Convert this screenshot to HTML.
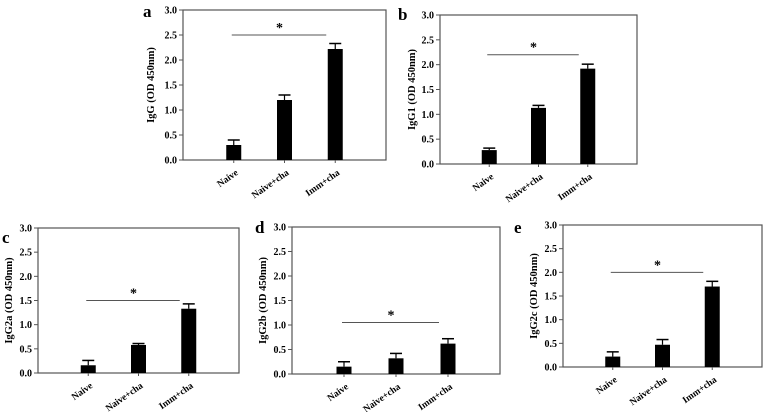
<!DOCTYPE html>
<html><head><meta charset="utf-8"><style>
body{margin:0;background:#fff;width:778px;height:412px;overflow:hidden}
svg{display:block}
text{font-family:"Liberation Serif",serif;font-weight:bold;fill:#000}
</style></head><body>
<svg id="c" width="778" height="412"></svg>
<script>
const categories=["Naive","Naive+cha","Imm+cha"];
const ticks=[0,0.5,1.0,1.5,2.0,2.5,3.0];
const valsA=[0.30,1.20,2.22]; const errA=[0.10,0.10,0.11];
const valsB=[0.28,1.13,1.92]; const errB=[0.04,0.05,0.09];
const valsC=[0.16,0.58,1.33]; const errC=[0.10,0.03,0.10];
const valsD=[0.15,0.32,0.62]; const errD=[0.10,0.10,0.10];
const valsE=[0.22,0.47,1.70]; const errE=[0.10,0.11,0.11];
const titles=["IgG (OD 450nm)","IgG1 (OD 450nm)","IgG2a (OD 450nm)","IgG2b (OD 450nm)","IgG2c (OD 450nm)"];
const letters=["a","b","c","d","e"];
const sigY=[2.5,2.2,1.5,1.05,2.0];
const panels=[
 {l:183,r:386,t:10,b:160,v:valsA,e:errA,lx:143,ly:17,tx:154},
 {l:440,r:637,t:15,b:164,v:valsB,e:errB,lx:398,ly:20,tx:415},
 {l:38,r:239,t:228,b:373,v:valsC,e:errC,lx:2,ly:243,tx:12},
 {l:292,r:500,t:227,b:374,v:valsD,e:errD,lx:255,ly:233,tx:266},
 {l:563,r:762,t:225,b:367,v:valsE,e:errE,lx:514,ly:233,tx:537}
];
const svg=document.getElementById('c');
const NS='http://www.w3.org/2000/svg';
function mk(tag,at,txt){const e=document.createElementNS(NS,tag);for(const k in at)e.setAttribute(k,at[k]);if(txt!==undefined)e.textContent=txt;svg.appendChild(e);return e;}
panels.forEach((p,i)=>{
 const y=v=>p.b-(v/3)*(p.b-p.t);
 const w=p.r-p.l;
 const x=j=>p.l+w*(0.25+0.25*j);
 let e=mk('rect',{x:p.l,y:p.t,width:w,height:p.b-p.t,fill:'none',stroke:'#555','stroke-width':1.2});
 
 
 e=mk('text',{x:p.lx,y:p.ly,'font-size':17},letters[i]);
 
 
 ticks.forEach(t=>{
  mk('line',{x1:p.l-4,x2:p.l,y1:y(t),y2:y(t),stroke:'#555'});
  e=mk('text',{x:p.l-6,y:y(t)+3.5,'font-size':10,'text-anchor':'end'},t.toFixed(1));
  
  
 });
 const cy=(p.t+p.b)/2;
 e=mk('text',{x:p.tx,y:cy,'font-size':10.5,'text-anchor':'middle',transform:`rotate(-90 ${p.tx} ${cy})`},titles[i]);
 
 
 p.v.forEach((v,j)=>{
  const cx=x(j);
  mk('line',{x1:cx,x2:cx,y1:y(v),y2:y(v+p.e[j]),stroke:'#000','stroke-width':1.2});
  mk('line',{x1:cx-6,x2:cx+6,y1:y(v+p.e[j]),y2:y(v+p.e[j]),stroke:'#000','stroke-width':1.5});
  e=mk('rect',{x:cx-7.5,y:y(v),width:15,height:p.b-y(v),fill:'#000'});
  
  
  mk('line',{x1:cx,x2:cx,y1:p.b,y2:p.b+3,stroke:'#555'});
  const lx=cx+5,ly=p.b+14;
  e=mk('text',{x:lx,y:ly,'font-size':9.5,'text-anchor':'end',transform:`rotate(-35 ${lx} ${ly})`},categories[j]);
  
  
 });
 const sy=y(sigY[i]);
 e=mk('line',{x1:x(0)-2,x2:x(2)-9,y1:sy,y2:sy,stroke:'#555','stroke-width':1});
 
 
 e=mk('text',{x:(x(0)+x(2))/2-5,y:sy-3,'font-size':14,'text-anchor':'middle'},'*');
 
 
});
</script>
</body></html>
